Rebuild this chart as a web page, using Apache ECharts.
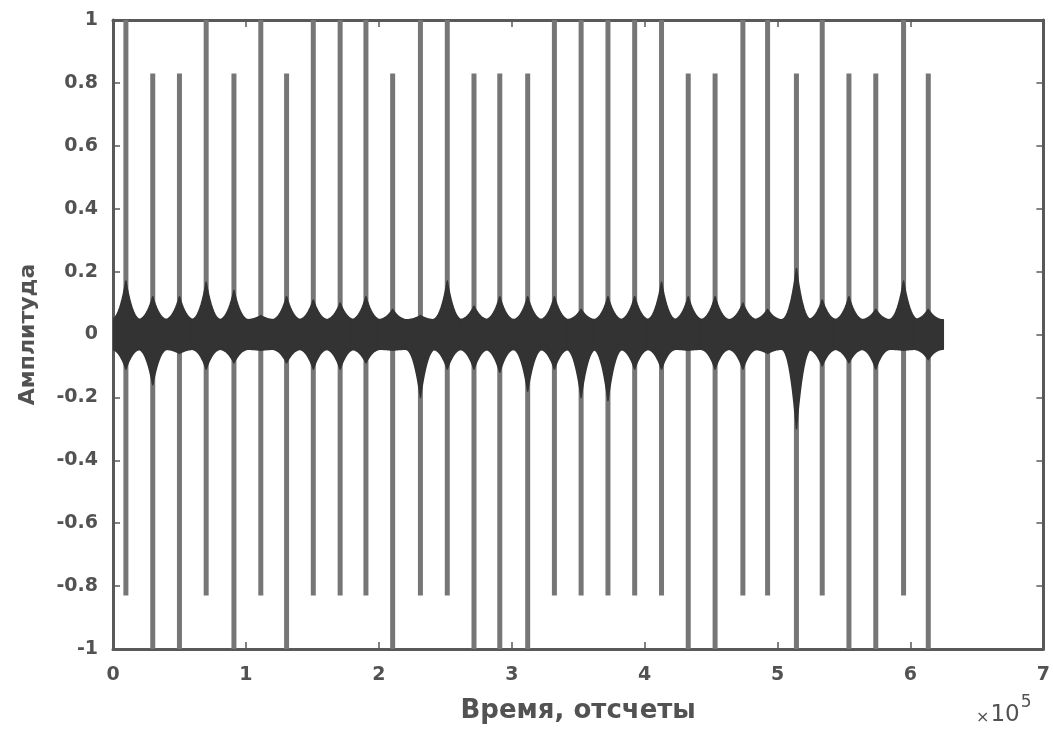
<!DOCTYPE html>
<html>
<head>
<meta charset="utf-8">
<script src="https://cdn.jsdelivr.net/npm/echarts@6/dist/echarts.min.js"></script>
<style>
html,body{margin:0;padding:0;background:#fff;}
#c{width:1053px;height:729px;}
</style>
</head>
<body>
<div id="c"></div>
<script>
// ---- data ----
const xTicks = [0, 1, 2, 3, 4, 5, 6, 7];            // x10^5 samples
const yTicks = [-1, -0.8, -0.6, -0.4, -0.2, 0, 0.2, 0.4, 0.6, 0.8, 1];
const spikeX = [9700, 29900, 50000, 70100, 91000, 111200, 130600, 150700, 170900, 190300,
  210400, 231300, 251500, 271600, 291000, 312000, 332100, 352200, 372400, 392500,
  412700, 432800, 453000, 473900, 492500, 514200, 533600, 553700, 573900, 594800, 613400];
const spikeTop = [1, .83, .83, 1, .83, 1, .83, 1, 1, 1, .83, 1, 1, .83, .83, .83, 1, 1, 1, 1,
  1, .83, .83, 1, 1, .83, 1, .83, .83, 1, .83];
const spikeBottom = [-.83, -1, -1, -.83, -1, -.83, -1, -.83, -.83, -.83, -1, -.83, -.83, -1, -1, -1,
  -.83, -.83, -.83, -.83, -.83, -1, -1, -.83, -.83, -1, -.83, -1, -1, -.83, -1];
const bumpTop = [0.17, 0.12, 0.12, 0.166, 0.14, 0.06, 0.12, 0.11, 0.10, 0.12, 0.08, 0.06, 0.17,
  0.09, 0.12, 0.12, 0.12, 0.08, 0.12, 0.12, 0.166, 0.12, 0.12, 0.10, 0.08, 0.21, 0.11, 0.12,
  0.08, 0.17, 0.08];
const bumpBottom = [-0.11, -0.16, -0.06, -0.11, -0.09, -0.05, -0.09, -0.11, -0.11, -0.09, -0.05,
  -0.2, -0.11, -0.11, -0.12, -0.18, -0.11, -0.2, -0.21, -0.11, -0.11, -0.05, -0.11, -0.11,
  -0.06, -0.3, -0.10, -0.09, -0.11, -0.05, -0.08];
const bandStart = 0;
const bandEnd = 625000;
const bandHalf = 0.047;

// ---- chart ----
const FONT = '"DejaVu Sans", Verdana, sans-serif';
const AX = '#595959';
const TXT = '#525252';
const DARK = '#333333';

const spikeData = spikeX.map((x, i) => [x, spikeTop[i], spikeBottom[i]]);
const bumpData = spikeX.map((x, i) => [x, bumpTop[i], bumpBottom[i]]);

function renderSpike(params, api) {
  const x = api.value(0);
  const p1 = api.coord([x, api.value(1)]);
  const p2 = api.coord([x, api.value(2)]);
  return {
    type: 'line',
    shape: { x1: p1[0], y1: p1[1], x2: p2[0], y2: p2[1] },
    style: { stroke: '#767676', lineWidth: 5 }
  };
}

function renderBump(params, api) {
  const x = api.value(0);
  const cx = api.coord([x, 0])[0];
  const yb1 = api.coord([x, bandHalf])[1];
  const yb2 = api.coord([x, -bandHalf])[1];
  const yt = api.coord([x, api.value(1)])[1];
  const ybm = api.coord([x, api.value(2)])[1];
  const hw = 15;
  const pts = [];
  const N = 12;
  for (let i = 0; i <= 2 * N; i++) {
    const t = -1 + i / N;
    const f = Math.pow(1 - Math.abs(t), 2.2);
    pts.push([cx + t * hw, yb1 + (yt - yb1) * f]);
  }
  for (let i = 2 * N; i >= 0; i--) {
    const t = -1 + i / N;
    const f = Math.pow(1 - Math.abs(t), 2.2);
    pts.push([cx + t * hw, yb2 + (ybm - yb2) * f]);
  }
  return {
    type: 'polygon',
    shape: { points: pts },
    style: { fill: DARK, stroke: DARK, lineWidth: 1.5, lineJoin: 'round' }
  };
}

function renderBand(params, api) {
  const p1 = api.coord([api.value(0), bandHalf]);
  const p2 = api.coord([api.value(1), -bandHalf]);
  return {
    type: 'rect',
    shape: { x: p1[0], y: p1[1], width: p2[0] - p1[0], height: p2[1] - p1[1], r: 3 },
    style: { fill: DARK }
  };
}

const axisCommon = {
  type: 'value',
  axisLine: { show: true, onZero: false, lineStyle: { color: AX, width: 3 } },
  axisTick: { show: true, inside: true, length: 7, lineStyle: { color: AX, width: 1.5 } },
  splitLine: { show: false }
};

const labelStyle = { color: TXT, fontFamily: FONT, fontWeight: 'bold' };

const chart = echarts.init(document.getElementById('c'), null, { renderer: 'canvas' });
chart.setOption({
  animation: false,
  backgroundColor: '#ffffff',
  grid: { left: 113, right: 5, top: 20, bottom: 78 },
  xAxis: [
    Object.assign({}, axisCommon, {
      position: 'bottom',
      min: xTicks[0] * 1e5, max: xTicks[xTicks.length - 1] * 1e5, interval: 1e5,
      axisLabel: Object.assign({ formatter: v => String(Math.round(v / 1e5)), fontSize: 19, margin: 17 }, labelStyle),
      name: 'Время, отсчеты', nameLocation: 'middle', nameGap: 49,
      nameTextStyle: Object.assign({ fontSize: 26 }, labelStyle)
    }),
    Object.assign({}, axisCommon, {
      position: 'top',
      min: xTicks[0] * 1e5, max: xTicks[xTicks.length - 1] * 1e5, interval: 1e5,
      axisLabel: { show: false }
    })
  ],
  yAxis: [
    Object.assign({}, axisCommon, {
      position: 'left',
      min: yTicks[0], max: yTicks[yTicks.length - 1], interval: 0.2,
      axisLabel: Object.assign({ formatter: v => String(+v.toFixed(1)), fontSize: 19, margin: 15 }, labelStyle),
      name: 'Амплитуда', nameLocation: 'middle', nameGap: 74,
      nameTextStyle: Object.assign({ fontSize: 22 }, labelStyle)
    }),
    Object.assign({}, axisCommon, {
      position: 'right',
      min: yTicks[0], max: yTicks[yTicks.length - 1], interval: 0.2,
      axisLabel: { show: false }
    })
  ],
  graphic: [{
    type: 'text',
    left: 976, top: 694,
    style: {
      text: '{a|×}{c|10}{b|5}',
      rich: {
        a: { fontSize: 16, fill: TXT, fontFamily: FONT, padding: [15, 1, 0, 0] },
        c: { fontSize: 23, fill: TXT, fontFamily: FONT, padding: [10, 0, 0, 0] },
        b: { fontSize: 17, fill: TXT, fontFamily: FONT, verticalAlign: 'top', padding: [0, 0, 0, 1] }
      }
    }
  }],
  series: [
    { type: 'custom', name: 'spikes', renderItem: renderSpike, data: spikeData, clip: true, z: 2,
      encode: { x: 0, y: [1, 2] } },
    { type: 'custom', name: 'band', renderItem: renderBand, data: [[bandStart, bandEnd]], clip: true, z: 3,
      encode: { x: [0, 1] } },
    { type: 'custom', name: 'bumps', renderItem: renderBump, data: bumpData, clip: true, z: 4,
      encode: { x: 0, y: [1, 2] } }
  ]
});
</script>
</body>
</html>
